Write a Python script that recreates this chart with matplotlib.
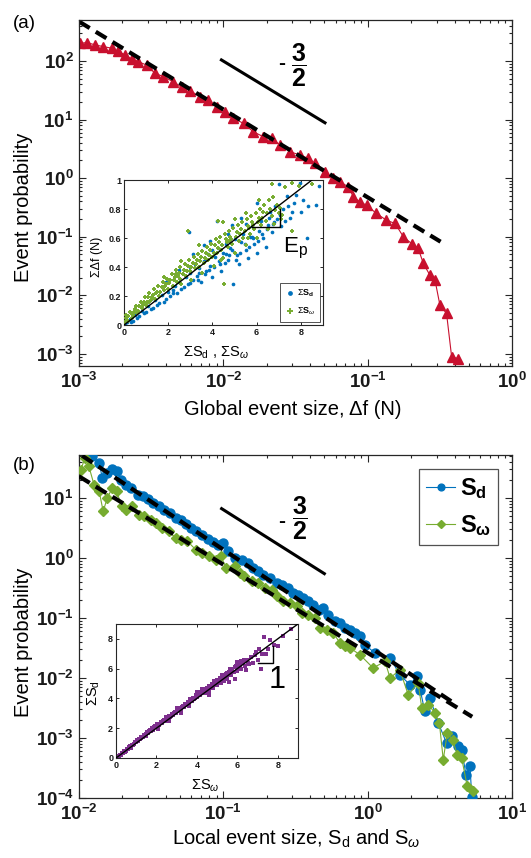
import numpy as np
import matplotlib
matplotlib.use("Agg")
import matplotlib.pyplot as plt
from matplotlib.ticker import FuncFormatter, LogLocator, NullFormatter

plt.rcParams['font.family'] = ['Liberation Sans', 'DejaVu Sans']
plt.rcParams['mathtext.fontset'] = 'custom'
plt.rcParams['mathtext.rm'] = 'Liberation Sans'
plt.rcParams['mathtext.it'] = 'Liberation Sans:italic'
plt.rcParams['mathtext.bf'] = 'Liberation Sans:bold'

RED = '#C8102E'
BLUE = '#0072BD'
GREEN = '#77AC30'
PURPLE = '#7E2F8E'

## panel (a): global event size distribution
df_size = [1.02e-3, 1.14e-3, 1.29e-3, 1.47e-3, 1.68e-3, 1.87e-3, 2.08e-3, 2.32e-3, 2.58e-3,
           2.94e-3, 3.36e-3, 3.84e-3, 4.51e-3, 5.14e-3, 5.87e-3, 6.89e-3, 7.87e-3, 9.0e-3,
           1.03e-2, 1.17e-2, 1.38e-2, 1.61e-2, 1.89e-2, 2.16e-2, 2.47e-2, 2.90e-2, 3.40e-2,
           3.88e-2, 4.32e-2, 5.06e-2, 5.78e-2, 6.43e-2, 7.34e-2, 7.96e-2, 8.85e-2, 9.84e-2,
           0.115, 0.135, 0.155, 0.177, 0.202, 0.224, 0.243, 0.270, 0.293, 0.317, 0.352, 0.382, 0.425]
df_prob = [200, 206, 188, 176, 165, 145, 127, 107, 97,
           85, 61.6, 54, 44, 35.5, 31, 24.6, 21.5, 16.6,
           13.6, 10.5, 8.6, 6.2, 5.1, 4.8, 3.66, 2.82, 2.47,
           2.17, 1.78, 1.28, 0.99, 0.865, 0.71, 0.48, 0.39, 0.345,
           0.249, 0.191, 0.168, 0.099, 0.076, 0.063, 0.035, 0.022, 0.018, 0.0067, 0.0049, 8.8e-4, 8.3e-4]

fit_a_x = [1e-3, 0.32]
fit_a_y = [470, 0.0821]
slope_a_x = [0.0097, 0.0506]
slope_a_y = [104, 8.8]

# inset (a): sum of local sizes vs global size
ins_a_sd_x = [0.05, 0.15, 0.25, 0.4, 0.5, 0.7, 0.8, 1.0, 1.1, 1.3, 1.4, 1.6, 1.7, 1.9, 2.0, 2.1,
              2.3, 2.4, 2.5, 2.6, 2.8, 2.9, 2.95, 3.0, 3.1, 3.2, 3.3, 3.4, 3.5, 3.6, 3.7, 3.8,
              3.9, 4.0, 4.1, 4.2, 4.25, 4.3, 4.4, 4.5, 4.6, 4.7, 4.8, 4.95, 5.0, 5.1, 5.2, 5.3,
              5.4, 5.5, 5.6, 5.7, 5.8, 5.9, 6.0, 6.1, 6.2, 6.3, 6.4, 6.5, 6.6, 6.7, 6.9, 7.0,
              7.1, 7.2, 7.36, 7.5, 7.7, 7.96, 8.0, 8.3, 8.26, 8.7, 8.8, 6.0, 5.3, 4.9, 3.6,
              2.2, 3.4, 4.6, 5.8, 6.8, 3.0, 4.0,
              0.3, 0.6, 0.9, 1.2, 1.5, 1.8, 2.2, 2.7, 3.0, 3.35, 3.65, 3.85, 4.05, 4.35,
              4.55, 4.75, 4.9, 5.05, 5.25, 5.45, 5.65, 5.85, 6.05, 6.25, 6.45, 6.55, 6.75,
              6.85, 7.05, 7.3, 7.4, 7.6, 7.8, 8.1, 3.1, 3.9, 4.7, 5.5, 2.5, 1.9]
ins_a_sd_y = [0.01, 0.02, 0.04, 0.03, 0.07, 0.06, 0.10, 0.09, 0.13, 0.12, 0.17, 0.15, 0.21, 0.18, 0.23, 0.20,
              0.27, 0.22, 0.30, 0.25, 0.33, 0.28, 0.64, 0.36, 0.31, 0.42, 0.34, 0.39, 0.30, 0.44, 0.37, 0.49,
              0.41, 0.33, 0.47, 0.72, 0.53, 0.44, 0.37, 0.50, 0.56, 0.45, 0.53, 0.28, 0.59, 0.48, 0.42, 0.57,
              0.63, 0.52, 0.46, 0.61, 0.68, 0.56, 0.50, 0.65, 0.72, 0.60, 0.54, 0.69, 0.78, 0.64, 0.73, 0.97,
              0.68, 0.80, 0.89, 0.74, 0.84, 0.98, 0.78, 0.82, 0.60, 0.83, 0.96, 0.84, 0.74, 0.69, 0.55,
              0.24, 0.36, 0.49, 0.61, 0.71, 0.40, 0.52,
              0.02, 0.05, 0.08, 0.11, 0.14, 0.16, 0.22, 0.26, 0.29, 0.31, 0.35, 0.38, 0.40, 0.42,
              0.43, 0.48, 0.52, 0.45, 0.50, 0.56, 0.54, 0.60, 0.58, 0.63, 0.66, 0.74, 0.70,
              0.82, 0.76, 0.72, 0.82, 0.78, 0.90, 0.86, 0.49, 0.58, 0.63, 0.70, 0.38, 0.30]
ins_a_sw_x = [0.05, 0.1, 0.15, 0.2, 0.3, 0.35, 0.45, 0.5, 0.6, 0.7, 0.8, 0.9, 1.0, 1.1, 1.2, 1.3,
              1.4, 1.5, 1.6, 1.7, 1.8, 1.9, 2.0, 2.1, 2.2, 2.3, 2.4, 2.5, 2.55, 2.6, 2.7, 2.8,
              2.9, 3.0, 3.05, 3.1, 3.2, 3.3, 3.4, 3.5, 3.55, 3.6, 3.7, 3.8, 3.9, 4.0, 4.05, 4.1,
              4.2, 4.3, 4.4, 4.5, 4.53, 4.6, 4.7, 4.8, 4.9, 5.0, 5.1, 5.2, 5.3, 5.4, 5.5, 5.6,
              5.7, 5.8, 5.9, 6.0, 6.1, 6.2, 6.3, 6.4, 6.5, 6.6, 6.7, 6.8, 6.9, 7.0, 7.1, 7.3,
              7.6, 7.9, 8.5, 6.1, 5.5, 2.9, 4.25, 4.5, 6.68, 7.58, 1.15, 2.35, 3.25, 4.75,
              0.1, 0.2, 0.25, 0.4, 0.55, 0.65, 0.75, 0.85, 0.95, 1.05, 1.15, 1.25, 1.35, 1.45,
              1.55, 1.65, 1.75, 1.85, 1.95, 2.05, 2.15, 2.25, 2.35, 2.45, 2.55, 2.65, 2.75, 2.85,
              2.95, 3.05, 3.15, 3.25, 3.35, 3.45, 3.55, 3.65, 3.75, 3.85, 3.95, 4.05, 4.15, 4.25,
              4.35, 4.45, 4.55, 4.65, 4.75, 4.85, 4.95, 5.05, 5.15, 5.25, 5.35, 5.45, 5.55, 5.65,
              5.75, 5.85, 5.95, 6.05, 6.15, 6.25, 6.35, 6.45, 6.55, 6.75, 6.85, 7.05, 7.15, 3.4,
              2.6, 1.8, 5.0, 4.4, 5.6]
ins_a_sw_y = [0.02, 0.05, 0.03, 0.06, 0.08, 0.05, 0.09, 0.11, 0.08, 0.13, 0.12, 0.16, 0.14, 0.19, 0.17, 0.21,
              0.18, 0.23, 0.20, 0.26, 0.24, 0.28, 0.25, 0.31, 0.27, 0.33, 0.30, 0.36, 0.32, 0.28, 0.38, 0.34,
              0.41, 0.37, 0.31, 0.43, 0.39, 0.45, 0.40, 0.47, 0.36, 0.43, 0.50, 0.45, 0.52, 0.47, 0.41, 0.55,
              0.50, 0.57, 0.52, 0.46, 0.28, 0.59, 0.54, 0.61, 0.56, 0.50, 0.64, 0.58, 0.66, 0.60, 0.55, 0.68,
              0.63, 0.71, 0.66, 0.60, 0.74, 0.69, 0.78, 0.72, 0.66, 0.80, 0.75, 0.70, 0.83, 0.77, 0.73, 0.95,
              0.98, 0.96, 0.97, 0.86, 0.77, 0.65, 0.72, 0.71, 0.97, 0.65, 0.16, 0.35, 0.42, 0.58,
              0.07, 0.03, 0.09, 0.07, 0.13, 0.10, 0.16, 0.14, 0.19, 0.16, 0.22, 0.19, 0.25, 0.22,
              0.27, 0.23, 0.30, 0.27, 0.32, 0.29, 0.35, 0.31, 0.38, 0.34, 0.40, 0.35, 0.42, 0.37,
              0.45, 0.40, 0.47, 0.42, 0.49, 0.44, 0.51, 0.46, 0.54, 0.48, 0.56, 0.50, 0.59, 0.53,
              0.61, 0.55, 0.63, 0.57, 0.65, 0.59, 0.67, 0.61, 0.69, 0.63, 0.71, 0.65, 0.73, 0.67,
              0.75, 0.69, 0.77, 0.71, 0.80, 0.74, 0.83, 0.77, 0.86, 0.88, 0.79, 0.81, 0.76, 0.55,
              0.44, 0.33, 0.73, 0.45, 0.60]

## panel (b): local event size distributions
sd_size = [0.0114, 0.0124, 0.0138, 0.0145, 0.0157, 0.0170, 0.0182, 0.0195, 0.0210, 0.0228,
           0.0258, 0.0277, 0.0301, 0.0326, 0.0358, 0.0390, 0.0425, 0.0468, 0.0506, 0.0555,
           0.0600, 0.0650, 0.0714, 0.0778, 0.0847, 0.0923, 0.0995, 0.107, 0.120, 0.134,
           0.149, 0.161, 0.175, 0.189, 0.210, 0.234, 0.254, 0.282, 0.305, 0.331,
           0.358, 0.388, 0.421, 0.462, 0.493, 0.535, 0.594, 0.643, 0.697, 0.755,
           0.817, 0.885, 0.959, 1.12, 1.43, 1.67, 1.96, 2.19, 2.31, 2.49,
           2.70, 3.09, 3.52, 3.82, 4.25, 4.48, 4.80, 5.12, 5.26]
sd_prob = [52.7, 49.4, 38.3, 21.5, 26.1, 30.8, 28.5, 20.2, 16.7, 14.7,
           11.1, 10.7, 9.75, 8.24, 7.26, 6.31, 5.55, 4.63, 4.25, 3.73,
           3.16, 2.78, 2.45, 2.10, 1.85, 1.63, 1.78, 1.29, 1.00, 0.938,
           0.824, 0.681, 0.598, 0.527, 0.463, 0.383, 0.359, 0.315, 0.261, 0.244,
           0.215, 0.189, 0.167, 0.137, 0.147, 0.114, 0.0879, 0.0824, 0.0681, 0.0638,
           0.0561, 0.0494, 0.0359, 0.0261, 0.0215, 0.0114, 0.00773, 0.0106, 0.00638, 0.00278,
           0.00463, 0.00177, 8.24e-4, 1.06e-3, 7.24e-4, 6.38e-4, 2.44e-4, 3.37e-4, 1.06e-4]
sw_size = [0.0103, 0.0110, 0.0117, 0.0127, 0.0138, 0.0147, 0.0157, 0.0170, 0.0182, 0.0198,
           0.0210, 0.0234, 0.0261, 0.0282, 0.0314, 0.0340, 0.0378, 0.0421, 0.0468, 0.0506,
           0.0564, 0.0643, 0.0714, 0.0796, 0.0885, 0.0959, 0.105, 0.120, 0.131, 0.138,
           0.157, 0.175, 0.195, 0.216, 0.234, 0.261, 0.290, 0.322, 0.349, 0.388,
           0.432, 0.468, 0.520, 0.578, 0.643, 0.697, 0.755, 0.885, 1.09, 1.32,
           1.43, 1.67, 1.91, 2.24, 2.37, 2.63, 2.93, 3.14, 3.34, 3.56,
           3.88, 4.18, 4.48, 4.90, 5.40]
sw_prob = [29.6, 46.5, 33.7, 16.7, 12.9, 6.00, 10.0, 14.7, 12.9, 7.26,
           6.38, 7.26, 5.27, 4.94, 4.36, 3.83, 3.16, 2.78, 2.15, 2.02,
           1.90, 1.38, 1.21, 1.07, 0.938, 1.07, 0.681, 0.726, 0.561, 0.494,
           0.408, 0.383, 0.315, 0.296, 0.230, 0.189, 0.177, 0.156, 0.121, 0.114,
           0.0998, 0.0681, 0.0638, 0.0561, 0.0383, 0.0337, 0.0316, 0.0244, 0.0147, 0.0189,
           0.00998, 0.0137, 0.00526, 0.00824, 0.00316, 0.00359, 0.00261, 0.00177, 4.35e-4, 1.21e-3,
           9.35e-4, 5.26e-4, 4.63e-4, 1.56e-4, 1.29e-4]

fit_sd_x = [0.0105, 3.8]
fit_sd_y = [50.7, 0.00408]
fit_sw_x = [0.01, 5.3]
fit_sw_y = [22.9, 0.00226]
slope_b_x = [0.0973, 0.501]
slope_b_y = [6.64, 0.548]

# inset (b): sum S_d vs sum S_w
ins_b_x = [0.05, 0.1, 0.15, 0.2, 0.25, 0.3, 0.35, 0.4, 0.5, 0.55, 0.6, 0.7, 0.75, 0.8, 0.9, 0.95,
           1.0, 1.1, 1.15, 1.2, 1.3, 1.35, 1.4, 1.5, 1.55, 1.6, 1.7, 1.75, 1.8, 1.9, 1.95, 2.0,
           2.1, 2.15, 2.2, 2.3, 2.35, 2.4, 2.5, 2.55, 2.6, 2.7, 2.75, 2.8, 2.9, 2.95, 3.0, 3.1,
           3.15, 3.2, 3.3, 3.35, 3.4, 3.5, 3.55, 3.6, 3.7, 3.75, 3.8, 3.9, 3.95, 4.0, 4.1, 4.15,
           4.2, 4.3, 4.35, 4.4, 4.5, 4.55, 4.6, 4.7, 4.75, 4.8, 4.9, 4.95, 5.0, 5.1, 5.15, 5.2,
           5.3, 5.4, 5.45, 5.5, 5.6, 5.7, 5.75, 5.86, 5.9, 6.0, 6.1, 6.2, 6.3, 6.4, 6.5, 6.6,
           6.7, 6.93, 7.0, 7.18, 7.2, 7.34, 7.5, 7.8, 8.24, 8.65, 4.6, 3.2, 2.1, 5.6,
           2.45, 3.05, 3.65, 4.25, 4.85, 5.25, 5.65, 6.05, 1.25, 1.85,
           0.45, 0.65, 0.85, 1.05, 1.25, 1.45, 1.65, 1.85, 2.05, 2.25, 2.45, 2.65, 2.85, 3.05,
           3.25, 3.45, 3.65, 3.85, 4.05, 4.25, 4.45, 4.65, 4.85, 5.05, 5.25, 5.35, 5.55, 5.65,
           5.85, 5.95, 6.15, 6.35, 6.45, 6.55, 6.75, 6.85, 7.05, 7.4, 7.6, 8.0, 2.6, 3.6,
           4.6, 5.5, 6.2, 1.5, 3.0, 4.0, 5.0, 6.0]
ins_b_y = [0.05, 0.12, 0.1, 0.22, 0.2, 0.33, 0.3, 0.45, 0.5, 0.6, 0.58, 0.78, 0.7, 0.9, 0.95, 1.05,
           1.1, 1.15, 1.3, 1.25, 1.42, 1.38, 1.55, 1.6, 1.72, 1.65, 1.85, 1.8, 1.98, 2.05, 2.15, 2.1,
           2.3, 2.2, 2.4, 2.45, 2.55, 2.5, 2.7, 2.6, 2.82, 2.85, 2.95, 2.9, 3.1, 3.0, 3.2, 3.25,
           3.35, 3.3, 3.5, 3.4, 3.62, 3.65, 3.75, 3.7, 3.9, 3.8, 4.02, 4.05, 4.2, 4.1, 4.3, 4.2,
           4.45, 4.4, 4.55, 4.35, 4.7, 4.6, 4.85, 4.75, 4.95, 4.7, 5.1, 5.0, 5.25, 5.15, 5.35, 5.05,
           5.5, 5.4, 5.65, 5.3, 5.8, 5.6, 5.95, 5.31, 6.1, 5.85, 6.3, 6.0, 6.4, 6.15, 6.6, 6.3,
           6.75, 7.09, 6.6, 5.98, 7.0, 8.09, 7.3, 7.6, 8.2, 8.64, 4.2, 3.0, 1.95, 5.1,
           2.72, 3.3, 3.95, 4.6, 5.2, 5.6, 6.0, 6.45, 1.38, 2.0,
           0.4, 0.72, 0.85, 1.2, 1.35, 1.5, 1.8, 1.9, 2.25, 2.35, 2.6, 2.75, 3.0, 3.15,
           3.45, 3.55, 3.85, 3.95, 4.25, 4.35, 4.6, 4.7, 4.95, 5.1, 5.4, 5.2, 5.55, 5.85,
           5.8, 6.2, 6.05, 6.55, 5.9, 6.4, 6.4, 6.9, 7.3, 7.0, 7.9, 7.5, 2.5, 3.5,
           4.45, 5.7, 6.5, 1.45, 3.35, 4.4, 4.9, 6.45]


def log_label(v, pos):
    return r'$\mathbf{10^{%d}}$' % int(round(np.log10(v)))


def style_main(ax):
    ax.set_xscale('log')
    ax.set_yscale('log')
    ax.tick_params(which='both', direction='in', top=True, right=True, width=0.8, colors='0.15')
    ax.tick_params(which='major', length=5, labelsize=13.5, pad=4)
    ax.tick_params(which='minor', length=2.5)
    ax.xaxis.set_major_locator(LogLocator(base=10, numticks=20))
    ax.yaxis.set_major_locator(LogLocator(base=10, numticks=20))
    ax.xaxis.set_minor_locator(LogLocator(base=10, subs=np.arange(2, 10), numticks=20))
    ax.yaxis.set_minor_locator(LogLocator(base=10, subs=np.arange(2, 10), numticks=20))
    ax.xaxis.set_major_formatter(FuncFormatter(log_label))
    ax.yaxis.set_major_formatter(FuncFormatter(log_label))
    ax.xaxis.set_minor_formatter(NullFormatter())
    ax.yaxis.set_minor_formatter(NullFormatter())
    for s in ax.spines.values():
        s.set_color('0.15')
        s.set_linewidth(0.9)
    for lab in ax.get_xticklabels() + ax.get_yticklabels():
        lab.set_color('0.1')


def style_inset(ax):
    ax.tick_params(which='both', direction='in', top=True, right=True, length=2.5,
                   width=0.7, labelsize=6.5, pad=2, colors='0.15')
    for lab in ax.get_xticklabels() + ax.get_yticklabels():
        lab.set_fontweight('bold')
        lab.set_color('0.1')
    for s in ax.spines.values():
        s.set_color('0.15')
        s.set_linewidth(0.8)


fig = plt.figure(figsize=(5.31, 8.58), dpi=100)

# ---------------- panel (a)
ax1 = fig.add_axes([0.1488, 0.5734, 0.8154, 0.4033])
ax1.plot(df_size, df_prob, '-', color=RED, lw=0.8, marker='^', ms=7.5, mfc=RED, mec=RED)
l, = ax1.plot(fit_a_x, fit_a_y, '--', color='k', lw=3)
l.set_dashes([3, 1.7])
ax1.plot(slope_a_x, slope_a_y, '-', color='k', lw=2.2)
ax1.set_xlim(1e-3, 1)
ax1.set_ylim(6.2e-4, 500)
style_main(ax1)
ax1.set_xlabel('Global event size, Δf (N)', fontsize=14.5)
ax1.set_ylabel('Event probability', fontsize=14.5)
ax1.xaxis.set_label_coords(0.494, -0.098)
ax1.yaxis.set_label_coords(-0.106, 0.46)
ax1.text(0.467, 0.873, '-', transform=ax1.transAxes, fontsize=15, fontweight='bold',
         ha='center', va='center')
ax1.text(0.508, 0.87, r'$\dfrac{\mathbf{3}}{\mathbf{2}}$', transform=ax1.transAxes,
         fontsize=18, ha='center', va='center')
fig.text(13 / 531, 1 - 15 / 858, '(a)', fontsize=13.5, ha='left', va='top')

# inset (a)
ia = fig.add_axes([0.2335, 0.6212, 0.3748, 0.1690])
ia.scatter(ins_a_sd_x, ins_a_sd_y, s=7, color=BLUE, marker='o', linewidths=0,
           label=r'$\Sigma\mathbf{S}_\mathbf{d}$', zorder=2)
ia.scatter(ins_a_sw_x, ins_a_sw_y, s=12, color=GREEN, marker='+', linewidths=1.4,
           label=r'$\Sigma\mathbf{S}_\omega$', zorder=3)
ia.plot([0, 8.5], [0, 1.0], '-', color='k', lw=1.0, zorder=4)
ia.plot([5.8, 7.06, 7.06], [0.678, 0.678, 0.80], '-', color='k', lw=1.0, zorder=4)
ia.set_xlim(0, 9)
ia.set_ylim(0, 1)
ia.set_xticks([0, 2, 4, 6, 8])
ia.set_yticks([0, 0.2, 0.4, 0.6, 0.8, 1])
ia.set_yticklabels(['0', '0.2', '0.4', '0.6', '0.8', '1'])
style_inset(ia)
ia.text(7.2, 0.5, r'E$_\mathregular{p}$', fontsize=16, va='baseline', ha='left')
ia.set_xlabel(r'ΣS$_\mathregular{d}$ , ΣS$_\omega$', fontsize=10.5)
ia.set_ylabel('ΣΔf (N)', fontsize=9)
ia.xaxis.set_label_coords(0.462, -0.138)
ia.yaxis.set_label_coords(-0.106, 0.47)
leg_a = ia.legend(loc='lower right', fontsize=6.5, frameon=True, fancybox=False,
                  edgecolor='0.15', handletextpad=0.2, borderpad=0.5, labelspacing=0.8,
                  handlelength=1.2, markerscale=1.3, borderaxespad=0.35)
leg_a.get_frame().set_linewidth(0.7)

# ---------------- panel (b)
ax2 = fig.add_axes([0.1488, 0.0699, 0.8154, 0.3998])
ax2.plot(sd_size, sd_prob, '-', color=BLUE, lw=0.8, marker='o', ms=6.5, mfc=BLUE, mec=BLUE,
         label=r'$\mathbf{S_d}$', zorder=3)
ax2.plot(sw_size, sw_prob, '-', color=GREEN, lw=0.8, marker='D', ms=5.5, mfc=GREEN, mec=GREEN,
         label=r'$\mathbf{S_\omega}$', zorder=3)
l1, = ax2.plot(fit_sd_x, fit_sd_y, '--', color='k', lw=3, zorder=4)
l2, = ax2.plot(fit_sw_x, fit_sw_y, '--', color='k', lw=3, zorder=4)
l1.set_dashes([3, 1.7])
l2.set_dashes([3, 1.7])
ax2.plot(slope_b_x, slope_b_y, '-', color='k', lw=2.2)
ax2.set_xlim(1e-2, 10)
ax2.set_ylim(1e-4, 52)
style_main(ax2)
ax2.set_xlabel(r'Local event size, S$_\mathregular{d}$ and S$_\omega$', fontsize=14.5)
ax2.set_ylabel('Event probability', fontsize=14.5)
ax2.xaxis.set_label_coords(0.501, -0.0875)
ax2.yaxis.set_label_coords(-0.106, 0.455)
ax2.text(0.467, 0.806, '-', transform=ax2.transAxes, fontsize=15, fontweight='bold',
         ha='center', va='center')
ax2.text(0.51, 0.815, r'$\dfrac{\mathbf{3}}{\mathbf{2}}$', transform=ax2.transAxes,
         fontsize=18, ha='center', va='center')
leg_b = ax2.legend(loc='upper right', fontsize=17, frameon=True, fancybox=False,
                   edgecolor='0.15', handlelength=1.2, handletextpad=0.2, borderpad=0.3,
                   labelspacing=0.5, borderaxespad=0.6, markerscale=0.75)
leg_b.get_frame().set_linewidth(0.9)
fig.text(13 / 531, 1 - 457 / 858, '(b)', fontsize=13.5, ha='left', va='top')

# inset (b)
ib = fig.add_axes([0.2185, 0.1166, 0.3427, 0.1562])
ib.scatter(ins_b_x, ins_b_y, s=7, color=PURPLE, marker='s', linewidths=0, zorder=2)
ib.plot([0, 9], [0, 9], '-', color='k', lw=1.0, zorder=3)
ib.plot([7.0, 7.75, 7.75], [6.38, 6.38, 7.55], '-', color='k', lw=1.0, zorder=3)
ib.set_xlim(0, 9)
ib.set_ylim(0, 9)
ib.set_xticks([0, 2, 4, 6, 8])
ib.set_yticks([0, 2, 4, 6, 8])
style_inset(ib)
ib.text(7.55, 4.7, '1', fontsize=22, va='baseline', ha='left')
ib.set_xlabel(r'ΣS$_\omega$', fontsize=10.5)
ib.set_ylabel(r'ΣS$_\mathregular{d}$', fontsize=10.5)
ib.xaxis.set_label_coords(0.489, -0.149)
ib.yaxis.set_label_coords(-0.077, 0.485)

fig.savefig('out.png', dpi=100)
